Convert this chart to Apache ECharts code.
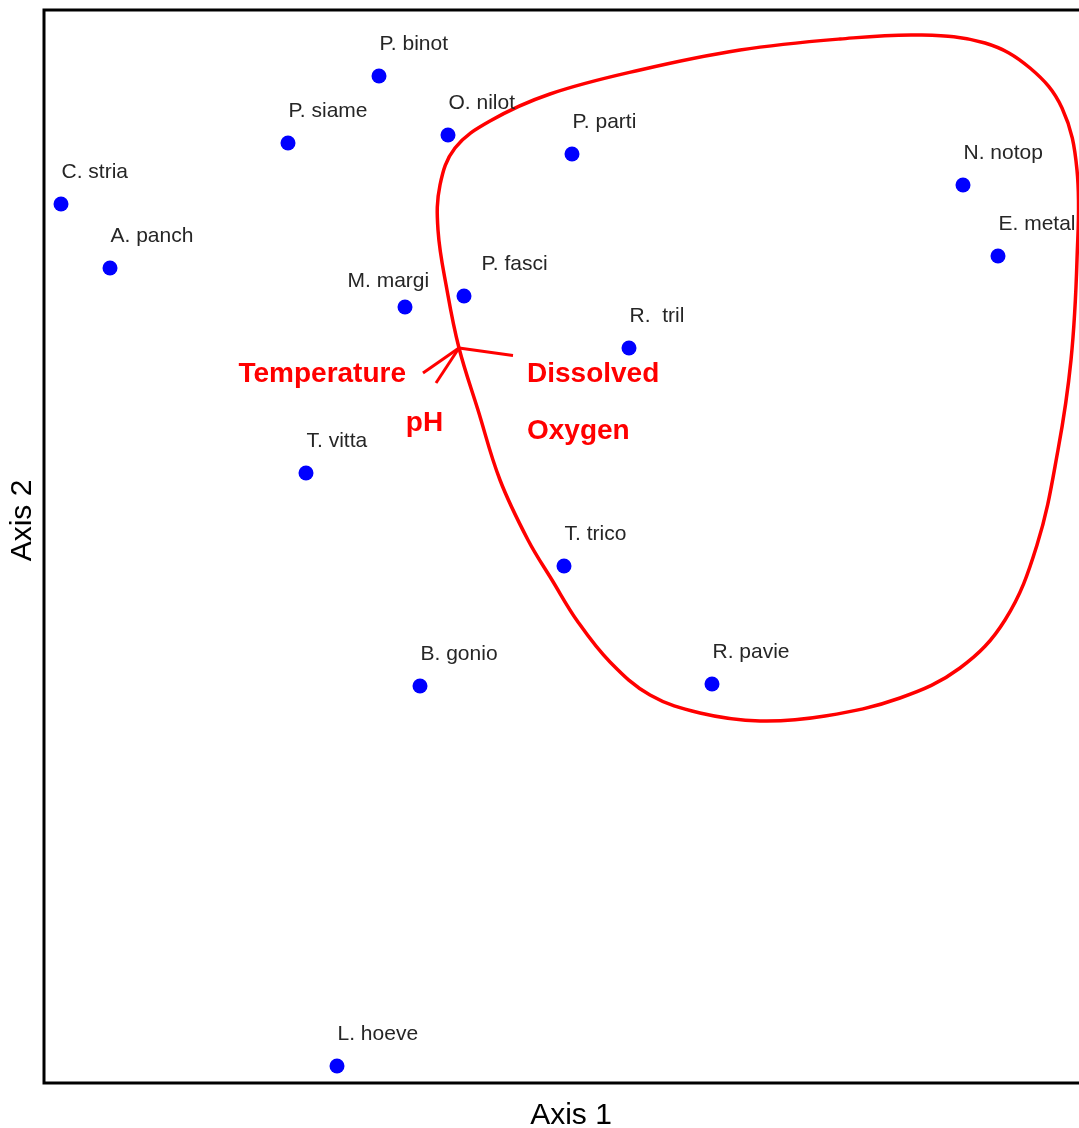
<!DOCTYPE html>
<html>
<head>
<meta charset="utf-8">
<script src="https://cdn.jsdelivr.net/npm/echarts@6/dist/echarts.min.js"></script>
<style>
  html, body { margin: 0; padding: 0; background: #ffffff; overflow: hidden; }
  #chart { width: 1098px; height: 1128px; }
</style>
</head>
<body>
<div id="chart"></div>
<script>
// Species scores on the two ordination axes
const speciesNames = [
  'P. binot', 'P. siame', 'O. nilot', 'P. parti', 'C. stria', 'A. panch',
  'M. margi', 'P. fasci', 'R.  tril', 'N. notop', 'E. metal', 'T. vitta',
  'T. trico', 'B. gonio', 'R. pavie', 'L. hoeve'
];
const axis1Scores = [33.5, 24.4, 40.4, 52.8, 1.7, 6.6, 36.1, 42.0, 58.5, 91.9, 95.4, 26.2, 52.0, 37.6, 66.8, 29.3];
const axis2Scores = [100.7, 94.0, 94.8, 92.9, 87.9, 81.5, 77.6, 78.7, 73.5, 89.8, 82.7, 61.0, 51.7, 39.7, 39.9, 1.7];

// Environmental vectors (origin and tips)
const vectorOrigin = [41.5, 73.5];
const vectorNames = ['Temperature', 'pH', 'Dissolved\nOxygen'];
const vectorTipX = [37.9, 39.2, 46.9];
const vectorTipY = [71.0, 70.0, 72.75];

// Outline enclosing the group of species (closed loop, clockwise)
const groupOutlineX = [
  41.5, 40.3, 39.4, 39.6, 41.1, 44.6, 50.6, 59.6, 69.6, 79.6, 87.6, 94.1, 98.6, 101.8,
  103.3, 103.3, 102.7, 101.4, 99.3, 96.1, 91.6, 85.6, 78.1, 71.6, 65.6, 60.6, 56.6,
  53.4, 50.8, 48.4, 45.6, 43.4
];
const groupOutlineY = [
  73.5, 79.3, 85.3, 89.8, 93.5, 96.2, 98.9, 101.3, 103.3, 104.4, 104.8, 104.0, 101.5, 97.5,
  91.3, 82.3, 72.3, 63.3, 53.8, 46.3, 41.5, 38.5, 36.7, 36.2, 37.0, 38.8, 42.1,
  46.1, 50.3, 54.3, 60.3, 67.3
];

// Per-label nudges (pixels) where a name would otherwise collide
const labelNudge = { 'M. margi': [-58, 5.5], 'P. fasci': [17, -0.5] };

// Label placement for each vector name relative to its tip
const vectorLabelStyle = [
  { position: [-17, 1], align: 'right', verticalAlign: 'middle' },
  { position: [-11.5, 40], align: 'center', verticalAlign: 'middle' },
  { position: [14, 47], align: 'left', verticalAlign: 'middle', lineHeight: 57 }
];

const speciesData = speciesNames.map((n, i) => {
  const item = { name: n, value: [axis1Scores[i], axis2Scores[i]] };
  if (labelNudge[n]) item.label = { offset: labelNudge[n] };
  return item;
});

const outlineData = groupOutlineX.map((x, i) => [x, groupOutlineY[i]]);

const vectorLines = vectorNames.map((n, i) => ({
  coords: [vectorOrigin, [vectorTipX[i], vectorTipY[i]]]
}));

const vectorTips = vectorNames.map((n, i) => ({
  name: n,
  value: [vectorTipX[i], vectorTipY[i]],
  label: vectorLabelStyle[i]
}));

const chart = echarts.init(document.getElementById('chart'), null, { renderer: 'canvas' });

chart.setOption({
  animation: false,
  backgroundColor: '#ffffff',
  grid: {
    left: 44, top: 10, right: 0, bottom: 45,
    outerBoundsMode: 'none',
    containLabel: false,
    show: true, borderColor: '#000000', borderWidth: 3, backgroundColor: 'transparent'
  },
  xAxis: {
    type: 'value', min: 0, max: 105.4,
    name: 'Axis 1', nameLocation: 'middle', nameGap: 18,
    nameTextStyle: { fontFamily: 'Liberation Sans', fontSize: 30, color: '#000000' },
    axisLine: { show: false }, axisTick: { show: false },
    axisLabel: { show: false }, splitLine: { show: false }
  },
  yAxis: {
    type: 'value', min: 0, max: 107.3,
    name: 'Axis 2', nameLocation: 'middle', nameGap: 6, nameRotate: 90,
    nameTextStyle: { fontFamily: 'Liberation Sans', fontSize: 30, color: '#000000', padding: [0, 0, 0, 52] },
    axisLine: { show: false }, axisTick: { show: false },
    axisLabel: { show: false }, splitLine: { show: false }
  },
  series: [
    {
      // closed smooth outline drawn through the library's coordinate mapping
      type: 'custom',
      coordinateSystem: 'cartesian2d',
      data: outlineData,
      encode: { x: 0, y: 1 },
      silent: true,
      z: 1,
      renderItem: function (params, api) {
        if (params.dataIndex !== 0) return null;
        const pts = outlineData.map(p => api.coord(p));
        return {
          type: 'polygon',
          shape: { points: pts, smooth: 0.38 },
          style: { fill: 'none', stroke: '#ff0000', lineWidth: 3.5 }
        };
      }
    },
    {
      type: 'lines',
      coordinateSystem: 'cartesian2d',
      data: vectorLines,
      silent: true,
      z: 2,
      lineStyle: { color: '#ff0000', width: 3, opacity: 1 }
    },
    {
      type: 'scatter',
      data: vectorTips,
      symbolSize: 0,
      silent: true,
      z: 3,
      itemStyle: { color: '#ff0000' },
      label: {
        show: true,
        formatter: '{b}',
        fontFamily: 'Liberation Sans',
        fontWeight: 'bold',
        fontSize: 28,
        color: '#ff0000',
        opacity: 1,
        textBorderWidth: 0,
        textBorderColor: 'transparent'
      }
    },
    {
      type: 'scatter',
      data: speciesData,
      symbolSize: 15,
      z: 4,
      itemStyle: { color: '#0000ff', opacity: 1 },
      label: {
        show: true,
        formatter: '{b}',
        position: [8, -24],
        align: 'left',
        verticalAlign: 'middle',
        fontFamily: 'Liberation Sans',
        fontSize: 21,
        color: '#262626'
      }
    }
  ]
});
</script>
</body>
</html>
